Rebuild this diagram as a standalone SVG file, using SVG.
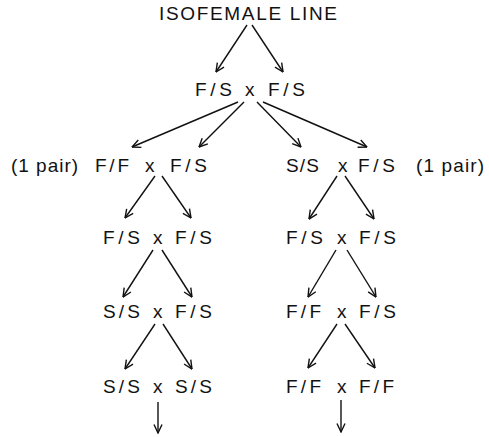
<svg xmlns="http://www.w3.org/2000/svg" width="489" height="437" viewBox="0 0 489 437">
  <style>
    text { font-family: "Liberation Sans", Arial, sans-serif; font-size: 19px; fill: #111; }
    .c line { stroke: #111; stroke-width: 1.4; marker-end: url(#arrow); }
  </style>
  <defs>
    <marker id="arrow" viewBox="0 0 10 10" refX="9.5" refY="5" markerWidth="10" markerHeight="10" markerUnits="userSpaceOnUse" orient="auto">
      <path d="M1,1 L9.5,5 L1,9" fill="none" stroke="#111" stroke-width="1.4"/>
    </marker>
  </defs>
  <rect width="489" height="437" fill="#fff"/>

  <!-- connectors -->
  <g class="c" id="connectors">
    <line x1="247" y1="25" x2="216" y2="72"/>
    <line x1="252" y1="25" x2="283" y2="72"/>

    <line x1="238" y1="102" x2="132" y2="147"/>
    <line x1="244" y1="102" x2="199" y2="147"/>
    <line x1="257" y1="102" x2="301" y2="147"/>
    <line x1="263" y1="102" x2="367" y2="147"/>

    <line x1="155" y1="176" x2="125" y2="218"/>
    <line x1="162" y1="176" x2="191" y2="218"/>
    <line x1="153" y1="250" x2="123" y2="297"/>
    <line x1="162" y1="250" x2="192" y2="297"/>
    <line x1="155" y1="324" x2="125" y2="369"/>
    <line x1="163" y1="324" x2="192" y2="369"/>
    <line x1="158" y1="402" x2="158" y2="433"/>

    <line x1="337" y1="176" x2="309" y2="219"/>
    <line x1="345" y1="176" x2="374" y2="219"/>
    <line x1="336" y1="250" x2="308" y2="297"/>
    <line x1="347" y1="250" x2="376" y2="297"/>
    <line x1="337" y1="324" x2="308" y2="368"/>
    <line x1="345" y1="324" x2="375" y2="368"/>
    <line x1="341" y1="400" x2="341" y2="432"/>
  </g>

  <g id="root">
    <text x="159" y="20" textLength="178" lengthAdjust="spacing">ISOFEMALE LINE</text>
  </g>

  <g id="cross-1">
    <text x="195" y="96" textLength="37" lengthAdjust="spacing">F/S</text>
    <text x="245" y="96">x</text>
    <text x="268" y="96" textLength="37" lengthAdjust="spacing">F/S</text>
  </g>

  <g id="note-left">
    <text x="11" y="172" textLength="67" lengthAdjust="spacing">(1 pair)</text>
  </g>
  <g id="cross-2a">
    <text x="95" y="172" textLength="34" lengthAdjust="spacing">F/F</text>
    <text x="145" y="172">x</text>
    <text x="170" y="172" textLength="37" lengthAdjust="spacing">F/S</text>
  </g>
  <g id="cross-2b">
    <text x="286" y="172" textLength="33" lengthAdjust="spacing">S/S</text>
    <text x="338" y="172">x</text>
    <text x="358" y="172" textLength="37" lengthAdjust="spacing">F/S</text>
  </g>
  <g id="note-right">
    <text x="416" y="172" textLength="68" lengthAdjust="spacing">(1 pair)</text>
  </g>

  <g id="cross-3a">
    <text x="103" y="244" textLength="37" lengthAdjust="spacing">F/S</text>
    <text x="153" y="244">x</text>
    <text x="175" y="244" textLength="37" lengthAdjust="spacing">F/S</text>
  </g>
  <g id="cross-3b">
    <text x="286" y="244" textLength="37" lengthAdjust="spacing">F/S</text>
    <text x="337" y="244">x</text>
    <text x="359" y="244" textLength="37" lengthAdjust="spacing">F/S</text>
  </g>

  <g id="cross-4a">
    <text x="103" y="318" textLength="37" lengthAdjust="spacing">S/S</text>
    <text x="153" y="318">x</text>
    <text x="175" y="318" textLength="37" lengthAdjust="spacing">F/S</text>
  </g>
  <g id="cross-4b">
    <text x="286" y="318" textLength="35" lengthAdjust="spacing">F/F</text>
    <text x="337" y="318">x</text>
    <text x="359" y="318" textLength="37" lengthAdjust="spacing">F/S</text>
  </g>

  <g id="cross-5a">
    <text x="103" y="393" textLength="37" lengthAdjust="spacing">S/S</text>
    <text x="153" y="393">x</text>
    <text x="175" y="393" textLength="37" lengthAdjust="spacing">S/S</text>
  </g>
  <g id="cross-5b">
    <text x="286" y="393" textLength="35" lengthAdjust="spacing">F/F</text>
    <text x="337" y="393">x</text>
    <text x="359" y="393" textLength="35" lengthAdjust="spacing">F/F</text>
  </g>
</svg>
